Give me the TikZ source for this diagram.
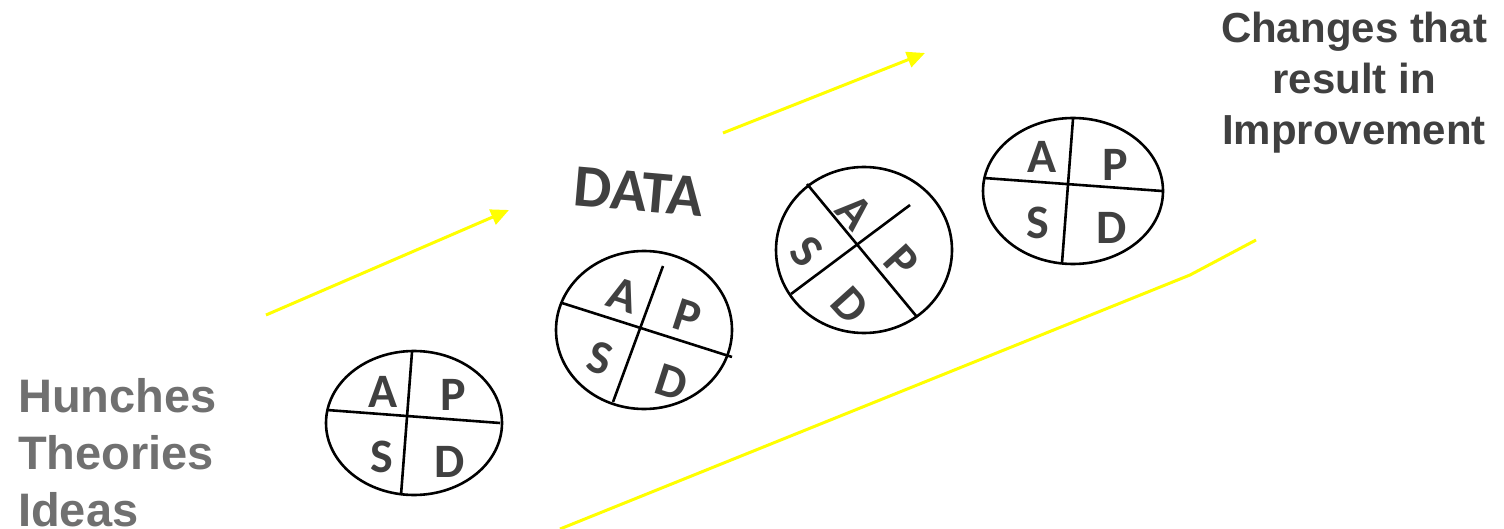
\documentclass[tikz,border=0pt]{standalone}
\usepackage{fontspec}
\setmainfont{Liberation Sans}
\newfontfamily\calfont{Carlito}
\usetikzlibrary{arrows.meta}
\definecolor{dgray}{HTML}{404040}
\definecolor{lgray}{HTML}{707070}
\definecolor{pathyellow}{HTML}{FFFF00}
\begin{document}
\begin{tikzpicture}[x=1pt,y=-1pt,
  ring/.style={line width=2.6pt, draw=black},
  cross/.style={line width=2.6pt, draw=black},
  lett/.style={font=\calfont\bfseries\fontsize{48}{48}\selectfont, text=dgray, inner sep=0pt},
  flow/.style={line width=3pt, draw=pathyellow},
  flowarrow/.style={flow, -{Triangle[length=18pt,width=16pt]}},
]
\useasboundingbox (0,0) rectangle (1504,529);

% left text (base anchor = last line)
\node[anchor=base west, align=left, inner sep=0pt, text=lgray,
      font=\bfseries\fontsize{47}{57}\selectfont] (ideas) at (18,526)
  {Hunches\\Theories\\Ideas};

% right text
\node[anchor=base, align=center, inner sep=0pt, text=dgray,
      font=\bfseries\fontsize{42}{51}\selectfont] (changes) at (1354,145)
  {Changes that\\result in\\Improvement};

% DATA
\node[font=\calfont\bfseries\fontsize{60}{60}\selectfont, text=dgray, rotate=-5, inner sep=0pt] (data) at (639,192) {DATA};

% yellow arrows
\coordinate (a1s) at (266,315);
\coordinate (a1e) at (509,210);
\coordinate (a2s) at (723,133);
\coordinate (a2e) at (925,53);
\coordinate (l3s) at (560,529);
\coordinate (l3k) at (1190,275);
\coordinate (l3e) at (1256,240);
\draw[flowarrow] (a1s) -- (a1e);
\draw[flowarrow] (a2s) -- (a2e);
\draw[flow] (l3s) -- (l3k) -- (l3e);

% Circle 1
\coordinate (c1) at (414,423);
\draw[ring] (c1) ellipse [x radius=88, y radius=72];
\coordinate (c1v1) at (412,352); \coordinate (c1v2) at (401,495);
\coordinate (c1h1) at (327,410); \coordinate (c1h2) at (500,423);
\draw[cross] (c1v1) -- (c1v2);
\draw[cross] (c1h1) -- (c1h2);
\node[lett] (c1a) at (383,392) {A};
\node[lett] (c1p) at (453,395) {P};
\node[lett] (c1s) at (382,457) {S};
\node[lett] (c1d) at (450,462) {D};

% Circle 2
\coordinate (c2) at (644,330);
\draw[ring] (c2) ellipse [x radius=88, y radius=79];
\coordinate (c2h1) at (562,303); \coordinate (c2h2) at (732,357);
\coordinate (c2v1) at (663,266); \coordinate (c2v2) at (613,402);
\draw[cross] (c2h1) -- (c2h2);
\draw[cross] (c2v1) -- (c2v2);
\node[lett, rotate=-18] (c2a) at (623,295) {A};
\node[lett, rotate=-18] (c2p) at (687,317) {P};
\node[lett, rotate=-18] (c2s) at (600,358) {S};
\node[lett, rotate=-18] (c2d) at (672,382) {D};

% Circle 3
\coordinate (c3) at (864,250);
\draw[ring] (c3) ellipse [x radius=88, y radius=83];
\coordinate (c3h1) at (807,184); \coordinate (c3h2) at (917,317);
\coordinate (c3v1) at (910,205); \coordinate (c3v2) at (791,294);
\draw[cross] (c3h1) -- (c3h2);
\draw[cross] (c3v1) -- (c3v2);
\node[lett, rotate=-48] (c3a) at (855,212) {A};
\node[lett, rotate=-48] (c3p) at (902,262) {P};
\node[lett, rotate=-48] (c3s) at (807,252) {S};
\node[lett, rotate=-48] (c3d) at (850,305) {D};

% Circle 4
\coordinate (c4) at (1073,191);
\draw[ring] (c4) ellipse [x radius=90, y radius=73];
\coordinate (c4v1) at (1073,119); \coordinate (c4v2) at (1062,263);
\coordinate (c4h1) at (984,178); \coordinate (c4h2) at (1162,191);
\draw[cross] (c4v1) -- (c4v2);
\draw[cross] (c4h1) -- (c4h2);
\node[lett] (c4a) at (1042,157) {A};
\node[lett] (c4p) at (1115,165) {P};
\node[lett] (c4s) at (1038,223) {S};
\node[lett] (c4d) at (1112,228) {D};
\end{tikzpicture}
\end{document}
